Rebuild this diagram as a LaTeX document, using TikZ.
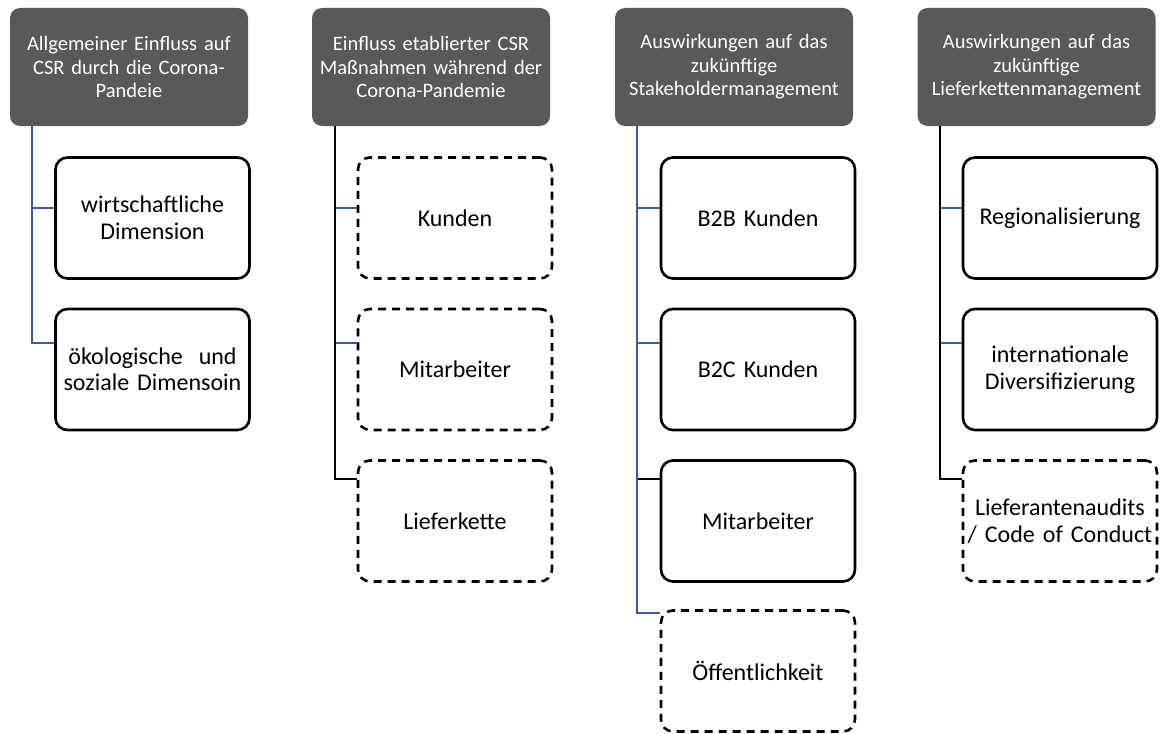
\documentclass[tikz,border=0pt]{standalone}
\usepackage{fontspec}
\setmainfont[WordSpace=0.85]{Carlito}
\usetikzlibrary{calc}

\definecolor{headgrey}{RGB}{89,89,89}
\definecolor{linkblue}{RGB}{59,92,162}

\tikzset{
    headbox/.style={rectangle, rounded corners=10pt, fill=headgrey, text=white,
        minimum width=238, minimum height=118, text width=236, align=center,
        inner sep=0pt, font=\fontsize{20.5}{23.5}\selectfont},
    itembox/.style={rectangle, rounded corners=12pt, draw=black, line width=2.6pt,
        minimum width=194, minimum height=121, text width=192, align=center,
        inner sep=0pt, font=\fontsize{24}{26.5}\selectfont},
    openbox/.style={itembox, dash pattern=on 8pt off 6pt},
    bluelink/.style={draw=linkblue, line width=2.3pt},
    blacklink/.style={draw=black, line width=2.3pt}
}

\begin{document}
\begin{tikzpicture}[x=1pt, y=-1pt]

        \useasboundingbox (0,0) rectangle (1166,733);

        %rows where the links meet the boxes
        \coordinate (j1) at (0,208);
        \coordinate (j2) at (0,343);
        \coordinate (j3) at (0,479);
        \coordinate (j4) at (0,613);

        %Column 1: general influence
        \node[headbox] (h1) at (129,67) {Allgemeiner Einfluss auf\\CSR durch die Corona-\\Pandeie};
        \node[itembox] (c11) at (152.5,218) {wirtschaftliche\\Dimension};
        \node[itembox] (c12) at (152.5,369.5) {ökologische\ \ und\\soziale Dimensoin};
        \draw[bluelink] ($(h1.south west)+(22,0)$) |- (j1 -| c11.west);
        \draw[bluelink] ($(h1.south west)+(22,0)$) |- (j2 -| c12.west);

        %Column 2: established measures
        \node[headbox] (h2) at (431,67) {Einfluss etablierter CSR\\Maßnahmen während der\\Corona-Pandemie};
        \node[openbox] (c21) at (455,218) {Kunden};
        \node[openbox] (c22) at (455,369.5) {Mitarbeiter};
        \node[openbox] (c23) at (455,521) {Lieferkette};
        \draw[bluelink] ($(h2.south west)+(23,0)$) |- (j1 -| c21.west);
        \draw[bluelink] ($(h2.south west)+(23,0)$) |- (j2 -| c22.west);
        \draw[blacklink] ($(h2.south west)+(23,0)$) |- (j3 -| c23.west);

        %Column 3: stakeholder management
        \node[headbox] (h3) at (734,67) {Auswirkungen auf das\\zukünftige\\Stakeholdermanagement};
        \node[itembox] (c31) at (758,218) {B2B Kunden};
        \node[itembox] (c32) at (758,369.5) {B2C Kunden};
        \node[itembox] (c33) at (758,521) {Mitarbeiter};
        \node[openbox] (c34) at (758,671) {Öffentlichkeit};
        \draw[blacklink] ($(h3.south west)+(22,0)$) |- (j3 -| c33.west);
        \draw[bluelink] ($(h3.south west)+(22,0)$) |- (j1 -| c31.west);
        \draw[bluelink] ($(h3.south west)+(22,0)$) |- (j2 -| c32.west);
        \draw[bluelink] ($(h3.south west)+(22,0)$) |- (j4 -| c34.west);

        %Column 4: supply chain management
        \node[headbox] (h4) at (1036.5,67) {Auswirkungen auf das\\zukünftige\\Lieferkettenmanagement};
        \node[itembox] (c41) at (1060,218) {Regionalisierung};
        \node[itembox] (c42) at (1060,369.5) {internationale\\Diversifizierung};
        \node[openbox] (c43) at (1060,521) {Lieferantenaudits\\/ Code of Conduct};
        \draw[bluelink] ($(h4.south west)+(23,0)$) |- (j1 -| c41.west);
        \draw[bluelink] ($(h4.south west)+(23,0)$) |- (j2 -| c42.west);
        \draw[blacklink] ($(h4.south west)+(23,0)$) |- (j3 -| c43.west);

\end{tikzpicture}
\end{document}
